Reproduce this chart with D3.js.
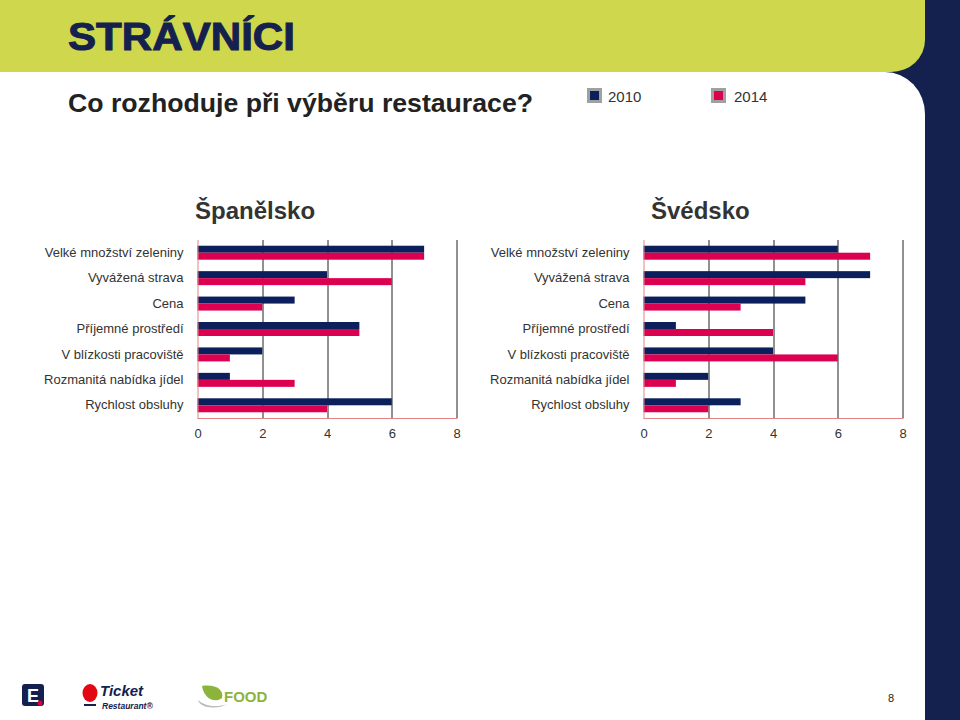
<!DOCTYPE html>
<html>
<head>
<meta charset="utf-8">
<script src="https://cdn.jsdelivr.net/npm/d3@7"></script>
<style>
  html, body { margin: 0; padding: 0; background: #fff; }
  svg { display: block; }
  text { font-family: "Liberation Sans", Arial, sans-serif; }
</style>
</head>
<body>
<svg id="chart" width="960" height="720"></svg>
<script>
// ---- data ----
const categories = [
  "Velké množství zeleniny",
  "Vyvážená strava",
  "Cena",
  "Příjemné prostředí",
  "V blízkosti pracoviště",
  "Rozmanitá nabídka jídel",
  "Rychlost obsluhy"
];
const seriesNames = ["2010", "2014"];
const spain2010 = [7, 4, 3, 5, 2, 1, 6];
const spain2014 = [7, 6, 2, 5, 1, 3, 4];
const sweden2010 = [6, 7, 5, 1, 4, 2, 3];
const sweden2014 = [7, 5, 3, 4, 6, 1, 2];
const xTicks = [0, 2, 4, 6, 8];
const panelTitles = ["Španělsko", "Švédsko"];

// ---- styles ----
const NAVY = "#14214E";
const GREEN = "#CFD74D";
const BAR2010 = "#0A1F5C";
const BAR2014 = "#DC0050";
const AXISPINK = "#E08585";
const TEXT = "#333333";

const svg = d3.select("#chart");

// background shapes
svg.append("rect").attr("x", 0).attr("y", 0).attr("width", 960).attr("height", 720).attr("fill", "#fff");
svg.append("rect").attr("x", 880).attr("y", 0).attr("width", 80).attr("height", 720).attr("fill", NAVY);
svg.append("path").attr("d", "M0,72 H885 A40,42 0 0 1 925,114 V720 H0 Z").attr("fill", "#fff");
svg.append("path").attr("d", "M0,0 H925 V40 A34,32 0 0 1 891,72 H0 Z").attr("fill", GREEN);

// title
svg.append("text").attr("x", 68).attr("y", 50)
  .attr("font-size", 39).attr("font-weight", "bold")
  .attr("fill", NAVY).attr("stroke", NAVY).attr("stroke-width", 1)
  .attr("textLength", 227).attr("lengthAdjust", "spacingAndGlyphs")
  .text("STRÁVNÍCI");

// subtitle
svg.append("text").attr("x", 68).attr("y", 112)
  .attr("font-size", 26.5).attr("font-weight", "bold").attr("fill", "#222")
  .attr("textLength", 465).attr("lengthAdjust", "spacingAndGlyphs")
  .text("Co rozhoduje při výběru restaurace?");

// legend
const color = d3.scaleOrdinal().domain(seriesNames).range([BAR2010, BAR2014]);
const legendX = d3.scaleOrdinal().domain(seriesNames).range([588.5, 712.5]);
const lg = svg.append("g").selectAll("g").data(seriesNames).join("g")
  .attr("transform", d => `translate(${legendX(d)},89.5)`);
lg.append("rect").attr("width", 12).attr("height", 12)
  .attr("fill", d => color(d)).attr("stroke", "#A0A0A0").attr("stroke-width", 3);
lg.append("text").attr("x", d => d === "2010" ? 19.5 : 21.5).attr("y", 12.5)
  .attr("font-size", 15).attr("fill", TEXT).text(d => d);

// panels
const panels = [
  { left: 197.5, title: panelTitles[0], s2010: spain2010, s2014: spain2014, titleX: 195 },
  { left: 643.5, title: panelTitles[1], s2010: sweden2010, s2014: sweden2014, titleX: 651 }
];
const plotTop = 240, plotH = 178, plotW = 259;

panels.forEach(p => {
  const g = svg.append("g").attr("transform", `translate(${p.left},${plotTop})`);
  const x = d3.scaleLinear().domain([0, 8]).range([0, plotW]);
  const y = d3.scaleBand().domain(categories).range([0, plotH]).paddingInner(0.45).paddingOuter(0.225);
  const y1 = d3.scaleBand().domain(seriesNames).range([0, y.bandwidth()]);

  // title
  svg.append("text").attr("x", p.titleX).attr("y", 219)
    .attr("font-size", 24).attr("font-weight", "bold").attr("fill", TEXT)
    .text(p.title);

  // gridlines
  g.append("g").selectAll("line").data(xTicks.filter(t => t > 0)).join("line")
    .attr("x1", d => Math.round(x(d)) + 0.5).attr("x2", d => Math.round(x(d)) + 0.5)
    .attr("y1", 0).attr("y2", plotH)
    .attr("stroke", "#222").attr("stroke-width", 1);

  // bars
  const rows = categories.map((c, i) => ({ cat: c, vals: [
    { key: "2010", v: p.s2010[i] }, { key: "2014", v: p.s2014[i] } ] }));
  const rg = g.append("g").selectAll("g").data(rows).join("g")
    .attr("transform", d => `translate(0,${y(d.cat)})`);
  rg.selectAll("rect").data(d => d.vals).join("rect")
    .attr("x", x(0)).attr("y", d => y1(d.key))
    .attr("width", d => x(d.v) - x(0)).attr("height", y1.bandwidth())
    .attr("fill", d => color(d.key));

  // axes lines (pink)
  g.append("line").attr("x1", 0.5).attr("x2", 0.5).attr("y1", 0).attr("y2", plotH + 0.5)
    .attr("stroke", AXISPINK).attr("stroke-width", 1);
  g.append("line").attr("x1", 0).attr("x2", plotW + 1).attr("y1", plotH + 0.5).attr("y2", plotH + 0.5)
    .attr("stroke", AXISPINK).attr("stroke-width", 1);

  // y axis labels
  const ya = g.append("g").call(d3.axisLeft(y).tickSize(0).tickPadding(14));
  ya.select(".domain").remove();
  ya.selectAll("text").attr("font-size", 13).attr("fill", TEXT)
    .attr("font-family", "'Liberation Sans', Arial, sans-serif");

  // x axis labels
  const xa = g.append("g").attr("transform", `translate(0,${plotH})`)
    .call(d3.axisBottom(x).tickValues(xTicks).tickSize(0).tickPadding(11).tickFormat(d3.format("d")));
  xa.select(".domain").remove();
  xa.selectAll("text").attr("font-size", 13).attr("fill", TEXT)
    .attr("font-family", "'Liberation Sans', Arial, sans-serif");
});

// page number
svg.append("text").attr("x", 891).attr("y", 702).attr("font-size", 11)
  .attr("fill", "#222").attr("text-anchor", "middle").text("8");

// footer logos (approximate)
const logo = svg.append("g");
logo.append("rect").attr("x", 22).attr("y", 684).attr("width", 22).attr("height", 22).attr("rx", 3).attr("fill", NAVY);
logo.append("text").attr("x", 33).attr("y", 702).attr("text-anchor", "middle").attr("font-size", 18)
  .attr("font-weight", "bold").attr("fill", "#fff").text("E");
logo.append("circle").attr("cx", 40).attr("cy", 703).attr("r", 2.5).attr("fill", "#DC0033");

logo.append("ellipse").attr("cx", 90).attr("cy", 693).attr("rx", 7.5).attr("ry", 9).attr("fill", "#E30613");
logo.append("rect").attr("x", 84).attr("y", 704).attr("width", 12).attr("height", 2).attr("fill", "#14214E");
logo.append("text").attr("x", 100).attr("y", 696).attr("font-size", 15).attr("font-weight", "bold")
  .attr("font-style", "italic").attr("fill", NAVY).text("Ticket");
logo.append("text").attr("x", 102).attr("y", 709).attr("font-size", 8.5).attr("font-weight", "bold")
  .attr("font-style", "italic").attr("fill", NAVY).text("Restaurant®");

logo.append("path").attr("d", "M202,686 C204,698 214,704 222,698 C224,690 216,684 202,686 Z").attr("fill", "#8CB43C");
logo.append("path").attr("d", "M198,700 C200,708 216,710 228,704 C216,708 204,706 198,700 Z").attr("fill", "#BBBBBB");
logo.append("text").attr("x", 224).attr("y", 702).attr("font-size", 15).attr("font-weight", "bold")
  .attr("fill", "#8CB43C").text("FOOD");
</script>
</body>
</html>
